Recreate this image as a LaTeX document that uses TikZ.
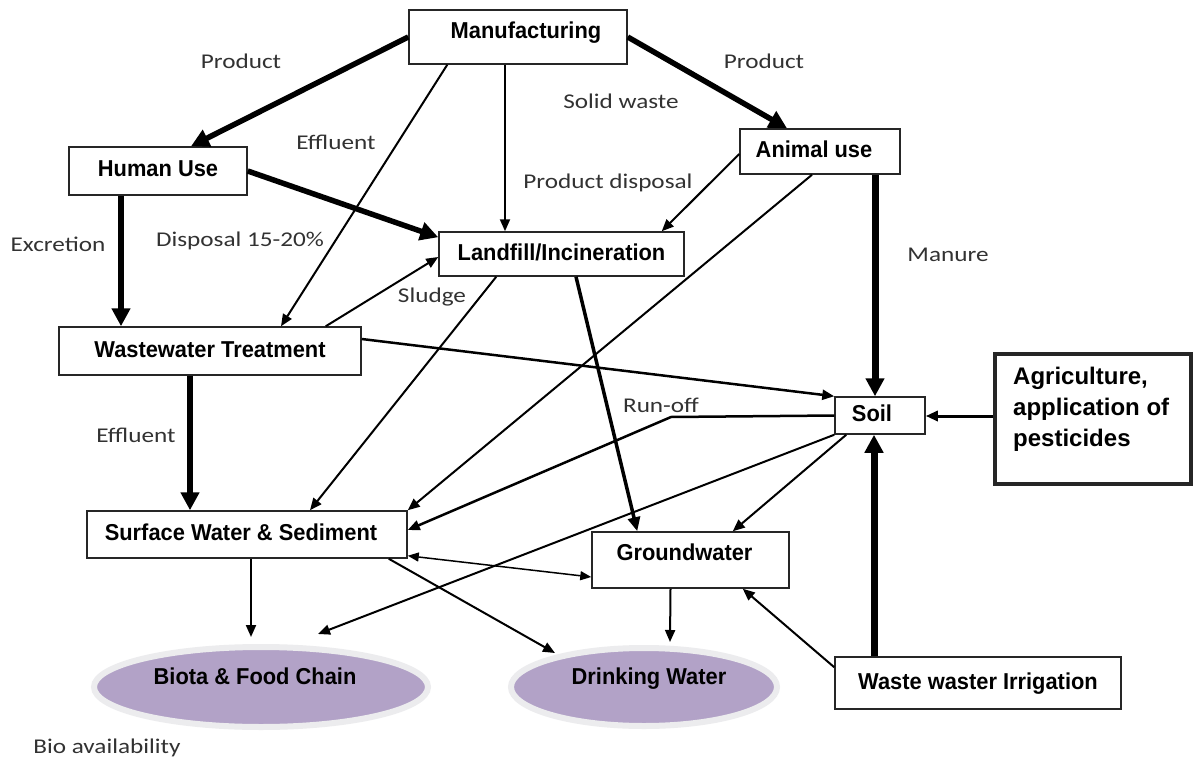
\documentclass[tikz,border=0pt]{standalone}
\usepackage{fontspec}
\usetikzlibrary{arrows.meta,shapes.geometric}
\newfontfamily\boxfont[FakeStretch=0.95]{Liberation Sans}
\newfontfamily\lblfont[FakeStretch=1.2]{Carlito}
\newfontfamily\agrifont{Liberation Sans}
\definecolor{lavender}{RGB}{178,162,199}
\definecolor{halo}{RGB}{236,236,238}
\definecolor{lblgray}{RGB}{50,50,50}

\begin{document}
\begin{tikzpicture}[x=1pt,y=-1pt,
  box/.style={draw=black!85, line width=1.5pt, fill=white, rectangle, inner sep=0pt,
    font=\boxfont\bfseries\fontsize{23}{26}\selectfont, text height=16.5pt, text depth=4.5pt},
  pool/.style={ellipse, fill=lavender, draw=halo, line width=6pt, inner sep=0pt,
    font=\boxfont\bfseries\fontsize{23}{26}\selectfont, text height=16pt, text depth=22pt},
  lbl/.style={text=lblgray, font=\lblfont\fontsize{21}{24}\selectfont, inner sep=0pt},
  flowthick/.style={line width=5.5pt, -{Triangle[length=18pt,width=18pt]}},
  flowmid/.style={line width=3.5pt, -{Triangle[length=14pt,width=12pt]}},
  flowthin/.style={line width=2pt, -{Triangle[length=12pt,width=10pt]}},
]
\fill[white] (0,0) rectangle (1196,762);
\useasboundingbox (0,0) rectangle (1196,762);

% ---- boxes ----
\node[box, minimum width=218pt, minimum height=54pt, text depth=14pt] (manu) at (518,37) {\hspace*{16pt}Manufacturing};
\node[box, minimum width=178pt, minimum height=48pt] (human) at (158,171) {Human Use};
\node[box, minimum width=160pt, minimum height=45pt] (animal) at (820,151.5) {Animal use\hspace*{12pt}};
\node[box, minimum width=245pt, minimum height=44pt] (landfill) at (561.5,254) {Landfill/Incineration};
\node[box, minimum width=302pt, minimum height=48pt] (wwt) at (210,351) {Wastewater Treatment};
\node[box, minimum width=90pt, minimum height=37pt] (soil) at (880,415.5) {Soil\hspace*{16pt}};
\node[box, line width=4pt, minimum width=196pt, minimum height=130pt] (agri) at (1093,419) {};
\node[anchor=north west, align=left, inner sep=0pt,
  font=\agrifont\bfseries\fontsize{24}{31}\selectfont] (agritxt)
  at ([xshift=20pt,yshift=-15pt]agri.north west) {Agriculture,\\application of\\pesticides};
\node[box, minimum width=320pt, minimum height=47pt] (surface) at (247,534.5) {Surface Water \& Sediment\hspace*{12pt}};
\node[box, minimum width=197pt, minimum height=56pt, text height=16pt, text depth=16pt] (ground) at (690.5,560) {Groundwater\hspace*{12pt}};
\node[box, minimum width=286pt, minimum height=52pt] (irr) at (978,683) {Waste waster Irrigation};
\node[pool, minimum width=334pt, minimum height=80pt] (biota) at (261,687) {Biota \& Food Chain\hspace*{12pt}};
\node[pool, minimum width=266pt, minimum height=78pt] (drink) at (644,687) {\hspace*{10pt}Drinking Water};

% ---- flows ----
\draw[flowthick] (manu.west) -- ([xshift=33pt]human.north);
\draw[flowthick] (manu.east) -- ([xshift=-33pt]animal.north);
\draw[flowthin] ([xshift=39pt]manu.south west) -- ([xshift=71pt]wwt.north);
\draw[flowthin] ([xshift=-13pt]manu.south) -- ([xshift=-13pt]manu.south |- landfill.north);
\draw[flowthick] (human.east) -- ([yshift=-6pt]landfill.north west);
\draw[flowthick] ([xshift=-37pt]human.south) -- ([xshift=-37pt]human.south |- wwt.north);
\draw[flowthin] ([yshift=-2.5pt]animal.west) -- ([xshift=-23pt]landfill.north east);
\draw[flowthin] ([xshift=-36pt]wwt.north east) -- ([yshift=-3pt]landfill.west);
\draw[flowthick] ([xshift=-20pt]wwt.south) -- ([xshift=-20pt]wwt.south |- surface.north);
\draw[flowthin, line width=2.5pt] ([yshift=12pt]wwt.east) -- (soil.north west);
\draw[flowthin] ([xshift=58pt]landfill.south west) -- ([xshift=63pt]surface.north);
\draw[flowmid] ([xshift=14.5pt]landfill.south) -- ([xshift=46pt]ground.north west);
\draw[flowthin] ([xshift=-8pt]animal.south) -- (surface.north east);
\coordinate (bend) at (671,417);
\draw[flowthin, line width=2.5pt] (soil.west) -- (bend) -- ([yshift=4.5pt]surface.east);
\draw[flowthin] (soil.south west) -- ([shift={(57pt,53pt)}]biota.center);
\draw[flowthin] ([xshift=12pt]soil.south west) -- ([xshift=-57pt]ground.north east);
\draw[line width=1.5pt, {Triangle[length=11pt,width=9pt]}-{Triangle[length=11pt,width=9pt]}]
  ([yshift=3pt]surface.south east) -- ([yshift=-17pt]ground.west);
\draw[flowthin] ([xshift=-19pt]surface.south east) -- ([shift={(-89pt,34pt)}]drink.center);
\draw[flowthin] ([xshift=-20pt]ground.south) -- ([shift={(26pt,45pt)}]drink.center);
\draw[flowthin] ([yshift=-11pt]irr.north west) -- ([xshift=-47pt]ground.south east);
\draw[flowthick, line width=7pt] ([xshift=-104pt]irr.north) -- ([xshift=-104pt]irr.north |- soil.south);
\draw[flowthick, line width=7pt] ([xshift=55pt]animal.south) -- ([xshift=55pt]animal.south |- soil.north);
\draw[flowthin, line width=3pt] ([yshift=3pt]agri.west) -- ([yshift=3pt]agri.west -| soil.east);
\draw[flowthin] ([xshift=4pt]surface.south) -- ([shift={(-10pt,50pt)}]biota.center);

% ---- flow labels ----
\node[lbl] (lprod1) at (241,61) {Product};
\node[lbl] (lprod2) at (764,61) {Product};
\node[lbl] (leff1) at (336,142) {Effluent};
\node[lbl] (lsolid) at (621,101) {Solid waste};
\node[lbl] (lpdisp) at (608,183) {Product disposal};
\node[lbl] (lexcr) at (58,244) {Excretion};
\node[lbl] (ldisp) at (240,241) {Disposal 15-20\%};
\node[lbl] (lsludge) at (432,297) {Sludge};
\node[lbl] (lmanure) at (948,255) {Manure};
\node[lbl] (leff2) at (136,435) {Effluent};
\node[lbl] (lrunoff) at (661,405) {Run-off};
\node[lbl] (lbio) at (107,748) {Bio availability};
\end{tikzpicture}
\end{document}
